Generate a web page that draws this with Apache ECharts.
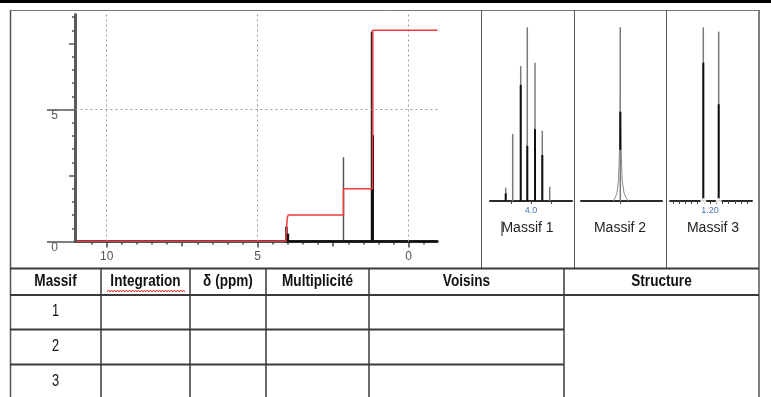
<!DOCTYPE html>
<html><head><meta charset="utf-8">
<script src="https://cdn.jsdelivr.net/npm/echarts@6/dist/echarts.min.js"></script>
<style>html,body{margin:0;padding:0;background:#fff}#c{width:771px;height:397px}</style>
</head><body><div id="c"></div>
<script>
// ---------- main spectrum (ppm / integral units) ----------
const mainMinorTicks = [10.5, 9.5, 9, 8.5, 8, 7, 6.5, 6, 5.5, 4.5, 4, 3.5, 3, 2, 1.5, 1, 0.5, -0.5];
const mainMidTicks = [7.5, 2.5];
const mainMajorTicks = [10, 5, 0];
const yMinorTicks = [0.5, 1, 1.5, 2, 3, 3.5, 4, 4.5, 5.5, 6, 6.5, 7, 8, 8.5];
const yMidTicks = [2.5, 7.5];
const yMajorTicks = [0, 5];
const gridPpm = [10, 5, 0];
const gridY = [5];

const septetMainPpm = [4.05, 4.0];
const septetMainH = [0.56, 0.3];
const ohMainPpm = [2.16];
const ohMainH = [3.19];
const doubletMainPpm = [1.215, 1.19];
const doubletMainH = [7.95, 4.03];
const baselinePpm = [4.1, -0.95];

const integralPpm = [11.0, 4.07, 4.05, 4.02, 3.99, 2.16, 2.16, 1.2, 1.2, -0.95];
const integralVal = [0, 0, 0.45, 0.9, 1.0, 1.0, 2.0, 2.0, 8.0, 8.0];

// ---------- zoomed multiplets (relative intensity, tallest = 100) ----------
const m1Ticks = [4.1, 4.0, 3.9];
const m1Labels = [4.0];
const m1Ppm = [4.1265, 4.0915, 4.0515, 4.0185, 3.98, 3.9435, 3.9065];
const m1Int = [7.7, 38.6, 77.7, 100, 79.6, 40.5, 8.2];
const m1Dark = [4.4, 0, 66.8, 31.7, 41.3, 26.5, 0];

const m2Ticks = [2.17];
const m2Ppm = [2.17];
const m2Int = [100];
const m2DarkLow = [29.4];
const m2DarkHigh = [51.4];
const m2FootPpm = [2.205, 2.195, 2.186, 2.179, 2.174, 2.17, 2.166, 2.161, 2.152, 2.142, 2.13];
const m2FootInt = [0, 2, 5, 12, 30, 60, 30, 12, 5, 2, 0];

const m3Ticks = [1.26, 1.25, 1.24, 1.23, 1.22, 1.21, 1.20, 1.19, 1.18, 1.17, 1.16, 1.15, 1.14];
const m3Labels = [1.20];
const m3Ppm = [1.2108, 1.186];
const m3Int = [100, 97.5];
const m3Dark = [79.6, 55.7];

const massifNames = ['Massif 1', 'Massif 2', 'Massif 3'];
const tableHeaders = ['Massif', 'Integration', 'δ (ppm)', 'Multiplicité', 'Voisins', 'Structure'];
const tableRows = ['1', '2', '3'];

// ---------- helpers ----------
function stick(color, width) {
  return function (params, api) {
    const p0 = api.coord([api.value(0), api.value(1)]);
    const p1 = api.coord([api.value(0), api.value(2)]);
    return { type: 'line', shape: { x1: p0[0], y1: p0[1], x2: p1[0], y2: p1[1] },
      style: { stroke: color, lineWidth: width } };
  };
}
function rows(ppm, lo, hi) { return ppm.map((p, i) => [p, Array.isArray(lo) ? lo[i] : lo, hi[i]]); }
function pairs(a, b) { return a.map((v, i) => [v, b[i]]); }

const FONT = "'Liberation Sans', Arial, sans-serif";

const hiddenY = (gi) => ({ gridIndex: gi, type: 'value', min: 0, max: 100, show: false });
function massifX(gi, min, max, ticks, labels, fmt) {
  return {
    gridIndex: gi, type: 'value', position: 'bottom', min: min, max: max, inverse: true,
    axisLine: { show: true, onZero: false, lineStyle: { color: '#2a2a2a', width: 2 } },
    axisTick: { show: true, customValues: ticks, length: 3, lineStyle: { color: '#444', width: 1 } },
    axisLabel: { show: labels.length > 0, customValues: labels, formatter: fmt, color: '#4a72b0',
      fontSize: 9, fontFamily: FONT, margin: 5 },
    splitLine: { show: false }
  };
}
const mainX = (ticks, len, labels) => ({
  gridIndex: 0, type: 'value', position: 'bottom', offset: 0, min: -0.95, max: 11.05, inverse: true,
  axisLine: { show: labels === null, onZero: false, lineStyle: { color: '#4a4a4a', width: 3 } },
  axisTick: { show: true, customValues: ticks, length: len, lineStyle: { color: '#444', width: 1.5 } },
  axisLabel: labels ? { show: true, customValues: labels, color: '#555', fontSize: 12, fontFamily: FONT, margin: 9 } : { show: false },
  splitLine: { show: false }
});
const mainY = (ticks, len, labels, showLine) => ({
  gridIndex: 0, type: 'value', position: 'left', offset: 0, min: 0, max: 8.6,
  axisLine: { show: showLine, onZero: false, lineStyle: { color: '#5a5a5a', width: 3 } },
  axisTick: { show: true, customValues: ticks, length: len, lineStyle: { color: '#555', width: 1.5 } },
  axisLabel: labels ? { show: true, customValues: labels, color: '#555', fontSize: 12, fontFamily: FONT,
    margin: 17, verticalAlign: 'top' } : { show: false },
  splitLine: { show: false }
});

// ---------- graphics (frames, table, labels) ----------
const G = [];
function L(x1, y1, x2, y2, c, w) { G.push({ type: 'line', shape: { x1, y1, x2, y2 }, style: { stroke: c, lineWidth: w }, silent: true }); }
function T(x, y, s, font, c, sx) {
  G.push({ type: 'text', x: x, y: y, scaleX: sx || 1, style: { text: s, font: font, fill: c || '#111', align: 'center', verticalAlign: 'middle' }, silent: true });
}
G.push({ type: 'rect', shape: { x: 0, y: 0, width: 771, height: 3 }, style: { fill: '#000' }, silent: true });
L(10, 10.5, 759, 10.5, '#777', 1);
L(10.5, 10, 10.5, 397, '#555', 1.5);
L(759, 10, 759, 397, '#555', 1.5);
[481.5, 574.5, 666.5].forEach(x => L(x, 10, x, 268, '#555', 1));
L(10, 268.5, 759, 268.5, '#3a3a3a', 2);
L(10, 295, 759, 295, '#3a3a3a', 2);
[101, 190, 266, 369, 564].forEach(x => L(x, 268, x, 397, '#3a3a3a', 1.5));
[329.5, 364.5].forEach(y => L(10, y, 564, y, '#3a3a3a', 2));
const colCenters = [55.5, 145.5, 228, 317.5, 466.5, 661.5];
tableHeaders.forEach((h, i) => T(colCenters[i], 281.5, h, 'bold 17px ' + FONT, '#111', 0.8));
const rowCenters = [312, 347, 382];
tableRows.forEach((r, i) => T(55.5, rowCenters[i], r, '16px ' + FONT, '#111', 0.8));
// spell-check squiggle under "Integration"
const sq = [];
for (let x = 107, k = 0; x <= 185; x += 1.5, k++) sq.push([x, k % 2 ? 290 : 292]);
G.push({ type: 'polyline', shape: { points: sq }, style: { stroke: '#e03030', lineWidth: 1, fill: null }, silent: true });
const massifCenters = [527.5, 620, 713];
massifNames.forEach((m, i) => T(massifCenters[i], 228.5, m, '14px ' + FONT, '#222', 1));
L(502, 221, 502, 236, '#222', 1);

const option = {
  animation: false,
  backgroundColor: '#fff',
  grid: [
    { left: 75, right: 333.6, top: 14.5, bottom: 155.5 },
    { left: 490, right: 199, top: 27.3, bottom: 196 },
    { left: 581, right: 109, top: 27.3, bottom: 196 },
    { left: 670, right: 19, top: 27.3, bottom: 196 }
  ],
  xAxis: [
    mainX(mainMinorTicks, 3, null),
    mainX(mainMidTicks, 5, false),
    mainX(mainMajorTicks, 6, mainMajorTicks),
    massifX(1, 3.795, 4.205, m1Ticks, m1Labels, v => Number(v).toFixed(1)),
    massifX(2, 1.9615, 2.3665, m2Ticks, [], null),
    massifX(3, 1.13226, 1.26452, m3Ticks, m3Labels, v => Number(v).toFixed(2))
  ],
  yAxis: [
    mainY(yMinorTicks, 3, null, true),
    mainY(yMidTicks, 6, null, false),
    mainY(yMajorTicks, 28, yMajorTicks, false),
    hiddenY(1), hiddenY(2), hiddenY(3)
  ],
  series: [
    { type: 'line', xAxisIndex: 0, yAxisIndex: 0, data: [[11.05, 0]], symbol: 'none', lineStyle: { width: 0 },
      markLine: { silent: true, symbol: 'none', label: { show: false },
        lineStyle: { type: [2, 3], color: '#9a9a9a', width: 1 },
        data: gridPpm.map(v => ({ xAxis: v })).concat(gridY.map(v => ({ yAxis: v }))) } },
    { type: 'line', xAxisIndex: 0, yAxisIndex: 0, data: baselinePpm.map(p => [p, 0]), symbol: 'none',
      lineStyle: { color: '#111', width: 2.5 }, z: 3 },
    { type: 'custom', xAxisIndex: 0, yAxisIndex: 0, renderItem: stick('#111', 2.5),
      data: rows(septetMainPpm, 0, septetMainH), encode: { x: 0, y: [1, 2] }, z: 3 },
    { type: 'custom', xAxisIndex: 0, yAxisIndex: 0, renderItem: stick('#555', 1.5),
      data: rows(ohMainPpm, 0, ohMainH), encode: { x: 0, y: [1, 2] }, z: 3 },
    { type: 'custom', xAxisIndex: 0, yAxisIndex: 0, renderItem: stick('#111', 2.5),
      data: rows(doubletMainPpm, 0, doubletMainH), encode: { x: 0, y: [1, 2] }, z: 3 },
    { type: 'line', xAxisIndex: 0, yAxisIndex: 0, data: pairs(integralPpm, integralVal), symbol: 'none',
      lineStyle: { color: '#f23a3a', width: 1.5 }, z: 5 },
    // massif 1
    { type: 'custom', xAxisIndex: 3, yAxisIndex: 3, renderItem: stick('#7a7a7a', 1.5),
      data: rows(m1Ppm, 0, m1Int), encode: { x: 0, y: [1, 2] }, z: 3 },
    { type: 'custom', xAxisIndex: 3, yAxisIndex: 3, renderItem: stick('#111', 2),
      data: rows(m1Ppm, 0, m1Dark), encode: { x: 0, y: [1, 2] }, z: 4 },
    // massif 2
    { type: 'line', xAxisIndex: 4, yAxisIndex: 4, data: pairs(m2FootPpm, m2FootInt), symbol: 'none',
      lineStyle: { color: '#8a8a8a', width: 1 }, z: 3 },
    { type: 'custom', xAxisIndex: 4, yAxisIndex: 4, renderItem: stick('#7a7a7a', 1.5),
      data: rows(m2Ppm, 0, m2Int), encode: { x: 0, y: [1, 2] }, z: 3 },
    { type: 'custom', xAxisIndex: 4, yAxisIndex: 4, renderItem: stick('#111', 2),
      data: rows(m2Ppm, m2DarkLow, m2DarkHigh), encode: { x: 0, y: [1, 2] }, z: 4 },
    // massif 3
    { type: 'custom', xAxisIndex: 5, yAxisIndex: 5, renderItem: stick('#7a7a7a', 1.5),
      data: rows(m3Ppm, 0, m3Int), encode: { x: 0, y: [1, 2] }, z: 3 },
    { type: 'custom', xAxisIndex: 5, yAxisIndex: 5, renderItem: stick('#111', 2),
      data: rows(m3Ppm, 0, m3Dark), encode: { x: 0, y: [1, 2] }, z: 4 },
    { type: 'scatter', xAxisIndex: 5, yAxisIndex: 5, data: m3Ppm.map(p => [p, 0]), symbol: 'emptyCircle',
      symbolSize: 4, itemStyle: { color: '#fff', borderColor: '#555', borderWidth: 1 }, z: 5, silent: true }
  ],
  graphic: G
};
const chart = echarts.init(document.getElementById('c'), null, { renderer: 'canvas' });
chart.setOption(option);
</script>
</body></html>
